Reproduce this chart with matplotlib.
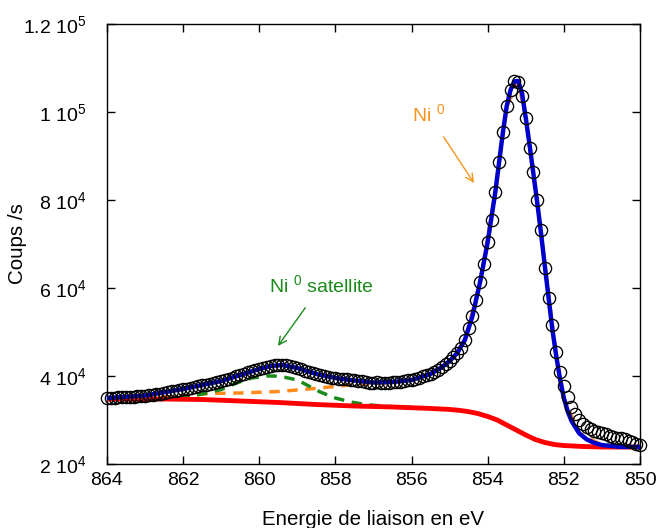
import numpy as np
import matplotlib
matplotlib.use("Agg")
import matplotlib.pyplot as plt

plt.rcParams['font.family'] = ['Liberation Sans', 'DejaVu Sans']
plt.rcParams['mathtext.default'] = 'regular'

# measured spectrum, 864 -> 850 eV every 0.1 eV
counts = [
    35000, 35000, 35000, 35120, 35120, 35230, 35230, 35230, 35460, 35460,
    35570, 35680, 35680, 35910, 36020, 36140, 36370, 36480, 36590, 36820,
    37050, 37160, 37270, 37500, 37730, 37960, 38070, 38180, 38410, 38640,
    38870, 39090, 39430, 39660, 40000, 40230, 40570, 40910, 41140, 41370,
    41590, 41930, 42050, 42280, 42390, 42500, 42500, 42390, 42280, 42050,
    41820, 41590, 41250, 40910, 40680, 40460, 40230, 40000, 39780, 39660,
    39550, 39430, 39320, 39210, 39090, 38980, 38870, 38870, 38640, 38410,
    38410, 38640, 38520, 38410, 38520, 38640, 38640, 38750, 38870, 38980,
    39090, 39320, 39550, 39890, 40120, 40460, 40800, 41370, 42050, 42730,
    43410, 44320, 45230, 46370, 48190, 50910, 53640, 57280, 61370, 65460,
    70460, 75460, 81830, 88640, 95460, 101370, 105010, 107060, 106830, 103650,
    98650, 91830, 86370, 80010, 73190, 64550, 57730, 51590, 45460, 40910,
    37730, 35230, 32960, 31370, 30000, 29090, 28410, 27960, 27500, 27270,
    27050, 26710, 26360, 26140, 26020, 25800, 25570, 25230, 25000, 24660,
    24320,
]
energy = np.linspace(864, 850, len(counts))

# total fit
fit_e = [864, 863, 862, 861.5, 861, 860.5, 860, 859.7, 859.4, 859, 858.5, 858,
         857.5, 857, 856.5, 856, 855.5, 855.2, 855, 854.8, 854.6, 854.4, 854.2,
         854, 853.8, 853.6, 853.5, 853.4, 853.3, 853.2, 853.1, 853, 852.9,
         852.8, 852.7, 852.6, 852.5, 852.4, 852.3, 852.2, 852.1, 852, 851.9,
         851.8, 851.6, 851.4, 851.2, 851, 850.5, 850]
fit_c = [35000, 35570, 37050, 37960, 38870, 40230, 41590, 42280, 42500, 41820,
         40460, 39550, 38980, 38520, 38640, 39090, 40460, 42050, 43410, 45230,
         48190, 53640, 61370, 70460, 81830, 95460, 101370, 105010, 106950,
         107060, 104300, 98650, 92500, 86000, 79500, 72500, 65000, 57700, 50500,
         44550, 39300, 35000, 32000, 29800, 27000, 25600, 24800, 24300, 23900,
         23860]

# Shirley background
bg_e = [864, 862.5, 861.5, 860.5, 859.5, 858.5, 857.5, 856.5, 855.5, 855,
        854.75, 854.5, 854.25, 854, 853.75, 853.5, 853.25, 853, 852.75, 852.5,
        852.25, 852, 851.5, 851, 850]
bg_c = [34770, 34770, 34660, 34320, 33980, 33520, 33180, 32960, 32620, 32400,
        32200, 31900, 31450, 30800, 30000, 28860, 27730, 26590, 25570, 24890,
        24430, 24200, 23980, 23860, 23860]

# Ni0 satellite component
sat_e = [864, 862.5, 862, 861.5, 861, 860.6, 860.2, 859.8, 859.6, 859.3, 859,
         858.7, 858.4, 858, 857.6, 857.2, 856.8, 856.4, 856]
sat_c = [34770, 34800, 35120, 35910, 36930, 38410, 39550, 40000, 40000, 39660,
         39090, 37730, 36370, 35000, 34090, 33520, 33180, 32960, 32850]

# Ni0 main component
ni_e = [864, 863, 862, 861.3, 860.5, 859.5, 858.7, 858, 857.4, 857, 856.5,
        856, 855.5, 855, 854.6, 854.2, 853.8, 853.5, 853.2, 853, 852.6, 852.2,
        852, 851.6, 851, 850]
ni_c = [34770, 35000, 35460, 36020, 36140, 36480, 37050, 37620, 38180, 38300,
        38500, 39000, 40400, 43300, 48100, 61300, 81800, 101300, 107000, 98600,
        72500, 44500, 35000, 27000, 24300, 23860]

fig = plt.figure(figsize=(6.56, 5.28), dpi=100)
ax = fig.add_axes([0.1631, 0.1212, 0.8125, 0.8333])

ax.plot(ni_e, ni_c, color='#FF8C1A', lw=2.5, dashes=(3, 2.2), zorder=2)
ax.plot(sat_e, sat_c, color='#1A8A1A', lw=2.5, dashes=(3, 2.2), zorder=2)
ax.plot(bg_e, bg_c, color='#FF0000', lw=3.5, zorder=3)
ax.plot(fit_e, fit_c, color='#0000CC', lw=3.2, zorder=4)
ax.plot(energy, counts, 'o', mfc='none', mec='black', ms=8.8, mew=0.95,
        zorder=5, clip_on=False)

ax.set_xlim(864, 850)
ax.set_ylim(2e4, 1.2e5)
ax.set_xticks([864, 862, 860, 858, 856, 854, 852, 850])
ax.set_yticks([2e4, 4e4, 6e4, 8e4, 1e5, 1.2e5])
ax.set_yticklabels(['2 10$^4$', '4 10$^4$', '6 10$^4$', '8 10$^4$',
                    '1 10$^5$', '1.2 10$^5$'])
ax.tick_params(direction='in', length=6, width=1, top=True, right=True,
               labelsize=14)
ax.tick_params(axis='y', pad=15)
ax.tick_params(axis='x', pad=6)
for s in ax.spines.values():
    s.set_linewidth(1.0)

ax.set_xlabel('Energie de liaison en eV', fontsize=14.8)
ax.xaxis.set_label_coords(0.5, -0.104)
ax.set_ylabel('Coups /s', fontsize=14.8)
ax.yaxis.set_label_coords(-0.15, 0.5)

ax.annotate('Ni $^0$', xy=(854.36, 83870), xytext=(855.99, 99560),
            color='#F7941D', fontsize=14, ha='left', va='center',
            arrowprops=dict(arrowstyle='->', color='#F7941D', lw=1,
                            shrinkA=8, shrinkB=0))
ax.annotate('Ni $^0$ satellite', xy=(859.51, 46820), xytext=(859.74, 60690),
            color='#1A8A1A', fontsize=14, ha='left', va='center',
            arrowprops=dict(arrowstyle='->', color='#1A8A1A', lw=1,
                            shrinkA=8, shrinkB=0))

fig.savefig('out.png', dpi=100)
